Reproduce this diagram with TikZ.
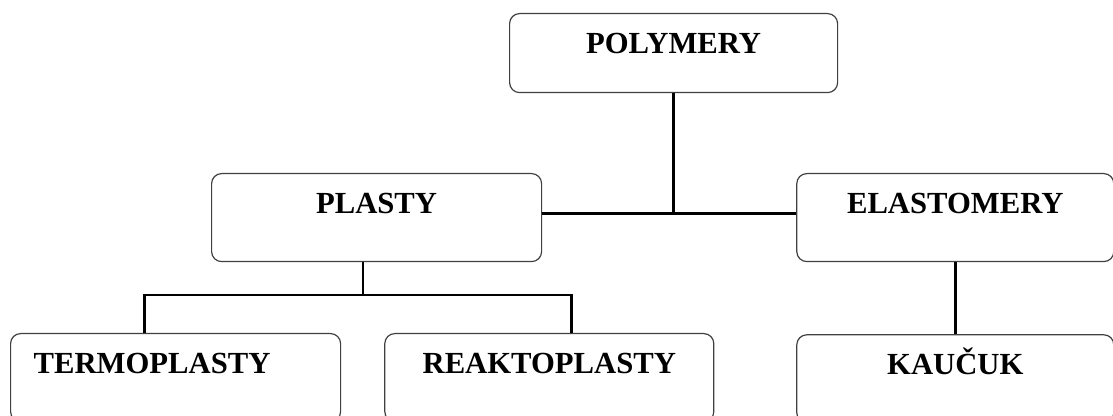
\documentclass[tikz,border=0pt]{standalone}
\usepackage{fontspec}
\setmainfont{Liberation Serif}
\usetikzlibrary{positioning}

\begin{document}
\begin{tikzpicture}[
    x=0.75pt, y=-0.75pt,
    font=\bfseries\fontsize{23}{27}\selectfont,
    box/.style={draw=black!75, line width=0.9pt, rounded corners=7.5pt, align=center, inner sep=0pt, text height=30pt, text depth=36pt},
    link/.style={line width=2.2pt}
]
\clip (0,0) rectangle (1113,416);

% --- Blocks ---
\node[box, text width=246pt, text depth=29.25pt, anchor=north west] (poly) at (509,13) {POLYMERY};

\node[box, text width=247.5pt, anchor=north west] (plasty) at (211,173) {PLASTY};

\node[box, text width=237.75pt, right=190.5pt of plasty] (elast) {ELASTOMERY};

\node[box, align=left, text width=213pt, inner xsep=17.25pt, anchor=north west] (termo) at (10,333) {TERMOPLASTY};

\node[box, text width=246.75pt, right=32.25pt of termo] (reakto) {REAKTOPLASTY};

\node[box, text width=237.75pt, below=54pt of elast] (kaucuk) {KAUČUK};

\coordinate (pbus) at (363,295);

% --- Lines ---
\draw[link] (plasty.base east) -- (elast.base west);
\draw[link] (poly.south) -- (poly.south |- plasty.base east);
\draw[link] (pbus |- plasty.south) -- (pbus);
\draw[link] ([xshift=-23.25pt]termo.north) |- (pbus) -| ([xshift=16.9pt]reakto.north);
\draw[link] (elast.south) -- (kaucuk.north);

\end{tikzpicture}
\end{document}
